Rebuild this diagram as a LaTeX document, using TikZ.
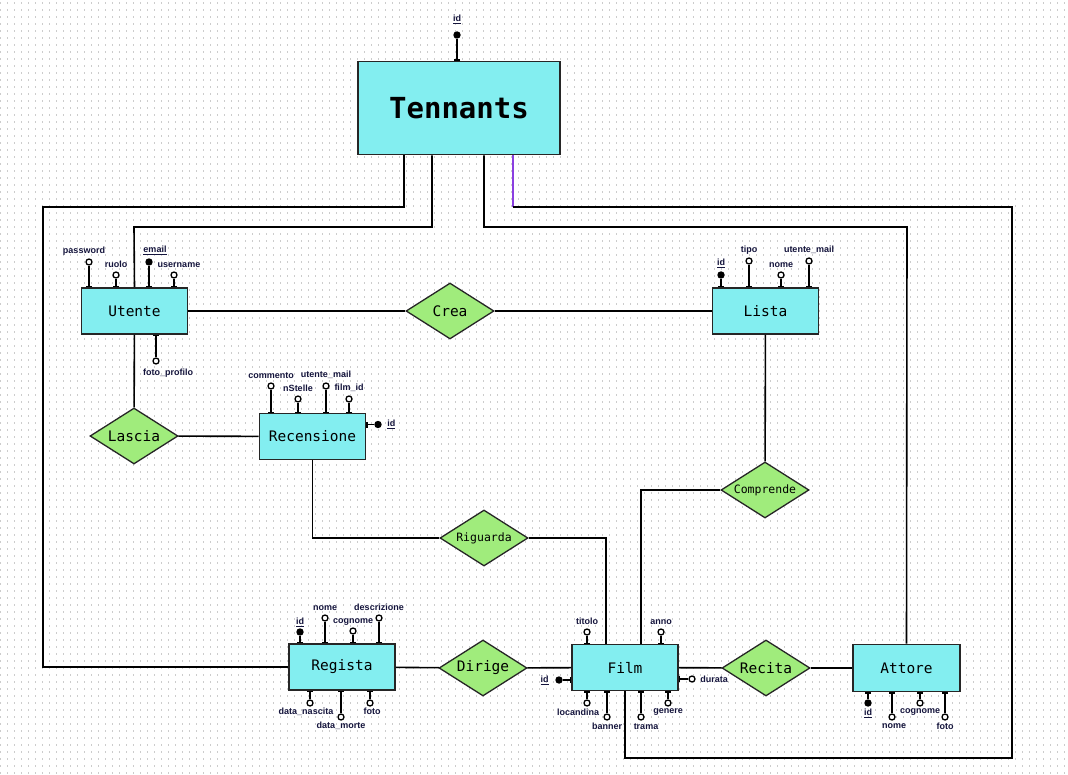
\documentclass[tikz,border=0pt]{standalone}
\usepackage{fontspec}
\setmainfont{Liberation Sans}
\setmonofont{DejaVu Sans Mono}
\usetikzlibrary{shapes.geometric, arrows.meta}

\definecolor{entcyan}{HTML}{83EEF0}
\definecolor{relgreen}{HTML}{A0EC7C}
\definecolor{linkpurple}{HTML}{8A3FE0}
\definecolor{keynavy}{HTML}{14143C}

\begin{document}
\begin{tikzpicture}[x = 1pt, y = -1pt, % one unit per pixel, y going down
                line width = 1.6pt, % line style
                label distance = 2.5pt
            ]

            \tikzstyle{entity}=[draw = black!85, fill = entcyan, line width = 1.6pt,
            minimum width = 106pt, minimum height = 46pt, inner sep = 0pt,
            font = \ttfamily\fontsize{14.5}{16}\selectfont]
            \tikzstyle{relation}=[draw = black!85, fill = relgreen, diamond, aspect = 1.57,
            line width = 1.3pt, inner sep = 0pt, minimum width = 88pt, minimum height = 56pt,
            font = \ttfamily\fontsize{14.5}{16}\selectfont]
            \tikzstyle{smallrel}=[relation, font = \ttfamily\fontsize{11.5}{13}\selectfont]
            \tikzstyle{attr}=[draw = black, fill = white, circle, inner sep = 0pt,
            minimum size = 6pt, line width = 1.3pt]
            \tikzstyle{key}=[attr, fill = black]
            \tikzstyle{every label}=[font = \bfseries\fontsize{9}{10}\selectfont,
            text = keynavy, inner sep = 0pt]
            \tikzstyle{stub}=[{Bar[width = 6pt, line width = 1.2pt]}-, line width = 1.6pt]

            % page and dotted grid
            \useasboundingbox (0,0) rectangle (1068,775);
            \fill[white] (0,0) rectangle (1068,775);
            \foreach \gy in {3,10,...,773}
            \draw[gray!40, line width = 1.2pt, dash pattern = on 1.2pt off 5.8pt] (0,\gy) -- (1068,\gy);

            % entities
            \node[entity, minimum width = 202pt, minimum height = 93pt,
            font = \ttfamily\bfseries\fontsize{29}{32}\selectfont] (tennants) at (459,108) {Tennants};
            \node[entity] (utente) at (134.5,311) {Utente};
            \node[entity] (lista) at (765.5,311) {Lista};
            \node[entity] (recensione) at (312.5,436.5) {Recensione};
            \node[entity] (regista) at (342,667) {Regista};
            \node[entity] (film) at (625,667.5) {Film};
            \node[entity, minimum width = 107pt, minimum height = 47pt] (attore) at (906.5,668) {Attore};

            % relations
            \node[relation] (crea) at (450,311) {Crea};
            \node[relation] (lascia) at (134,436) {Lascia};
            \node[smallrel] (comprende) at (765,490) {Comprende};
            \node[smallrel] (riguarda) at (484,538) {Riguarda};
            \node[relation] (dirige) at (483,668) {Dirige};
            \node[relation] (recita) at (766,668) {Recita};

            % links
            \path (utente) edge (crea) (crea) edge (lista);
            \path (utente) edge (lascia) (lascia) edge (recensione);
            \path (lista) edge (comprende);
            \draw (comprende.west) -| ([xshift = 16pt]film.north);
            \draw (recensione.south) |- (riguarda.west);
            \draw (riguarda.east) -| ([xshift = -19pt]film.north);
            \path (regista) edge (dirige) (dirige) edge (film);
            \path (film) edge (recita) (recita) edge (attore);

            % tenant links
            \draw ([xshift = -55pt]tennants.south) |- (43,207) |- (regista.west);
            \draw ([xshift = -27pt]tennants.south) |- (134,227) -- (utente.north);
            \draw ([xshift = 25pt]tennants.south) |- (907,227) -- (attore.north);
            \draw[linkpurple] ([xshift = 54pt]tennants.south) -- (513,207);
            \draw (513,207) -| (1012,758) -| (film.south);

            % attributes: Tennants
            \node[key, label = {[label distance = 7pt]above:\underline{id}}] (tid) at (457,35) {};
            \draw[stub] (tennants.north -| tid) -- (tid);

            % attributes: Utente
            \node[attr, label = {[xshift = -5pt]above:password}] (upw) at (89,262) {};
            \node[attr, label = above:ruolo] (uruolo) at (116,275) {};
            \node[key, label = {[xshift = 6pt]above:\underline{email}}] (uemail) at (149,262) {};
            \node[attr, label = {[xshift = 5pt]above:username}] (uuser) at (174,275) {};
            \node[attr, label = {[xshift = 12pt, label distance = 4pt]below:foto\_profilo}] (ufoto) at (156,361) {};
            \foreach \a in {upw, uruolo, uemail, uuser} \draw[stub] (utente.north -| \a) -- (\a);
            \draw[stub] (utente.south -| ufoto) -- (ufoto);

            % attributes: Lista
            \node[key, label = above:\underline{id}] (lid) at (721,275) {};
            \node[attr, label = above:tipo] (ltipo) at (749,261) {};
            \node[attr, label = above:nome] (lnome) at (781,275) {};
            \node[attr, label = above:utente\_mail] (lmail) at (809,261) {};
            \foreach \a in {lid, ltipo, lnome, lmail} \draw[stub] (lista.north -| \a) -- (\a);

            % attributes: Recensione
            \node[attr, label = above:commento] (rcomm) at (271,386) {};
            \node[attr, label = above:nStelle] (rstelle) at (298,399) {};
            \node[attr, label = above:utente\_mail] (rmail) at (326,386) {};
            \node[attr, label = above:film\_id] (rfilm) at (349,399) {};
            \node[key, label = {[label distance = 5pt]right:\underline{id}}] (rid) at (378,424.5) {};
            \foreach \a in {rcomm, rstelle, rmail, rfilm} \draw[stub] (recensione.north -| \a) -- (\a);
            \draw[stub] (recensione.east |- rid) -- (rid);

            % attributes: Regista
            \node[key, label = {[label distance = 1pt]above:\underline{id}}] (gid) at (300,632) {};
            \node[attr, label = above:nome] (gnome) at (325,618) {};
            \node[attr, label = {[label distance = 1pt]above:cognome}] (gcogn) at (353,631) {};
            \node[attr, label = above:descrizione] (gdesc) at (379,618) {};
            \node[attr, label = {[xshift = -4pt, label distance = 1pt]below:data\_nascita}] (gnasc) at (310,703) {};
            \node[attr, label = {[label distance = 1pt]below:data\_morte}] (gmorte) at (341,717) {};
            \node[attr, label = {[xshift = 2pt, label distance = 1pt]below:foto}] (gfoto) at (370,703) {};
            \foreach \a in {gid, gnome, gcogn, gdesc} \draw[stub] (regista.north -| \a) -- (\a);
            \foreach \a in {gnasc, gmorte, gfoto} \draw[stub] (regista.south -| \a) -- (\a);

            % attributes: Film
            \node[attr, label = above:titolo] (ftitolo) at (587,632) {};
            \node[attr, label = above:anno] (fanno) at (661,632) {};
            \node[key, label = {[label distance = 6pt]left:\underline{id}}] (fid) at (559,680) {};
            \node[attr, label = {[label distance = 4pt]right:durata}] (fdurata) at (692,679) {};
            \node[attr, label = {[xshift = -9pt, label distance = 2pt]below:locandina}] (floc) at (587,703) {};
            \node[attr, label = {[label distance = 2pt]below:banner}] (fbanner) at (607,717) {};
            \node[attr, label = {[xshift = 5pt, label distance = 2pt]below:trama}] (ftrama) at (641,717) {};
            \node[attr, label = {[label distance = 1pt]below:genere}] (fgenere) at (668,703) {};
            \foreach \a in {ftitolo, fanno} \draw[stub] (film.north -| \a) -- (\a);
            \foreach \a in {floc, fbanner, ftrama, fgenere} \draw[stub] (film.south -| \a) -- (\a);
            \draw[stub] (film.west |- fid) -- (fid);
            \draw[stub] (film.east |- fdurata) -- (fdurata);

            % attributes: Attore
            \node[key, label = {[label distance = 2pt]below:\underline{id}}] (aid) at (868,703) {};
            \node[attr, label = {[xshift = 2pt, label distance = 2pt]below:nome}] (anome) at (892,717) {};
            \node[attr, label = {[label distance = 1pt]below:cognome}] (acogn) at (920,703) {};
            \node[attr, label = {[label distance = 2pt]below:foto}] (afoto) at (945,717) {};
            \foreach \a in {aid, anome, acogn, afoto} \draw[stub] (attore.south -| \a) -- (\a);
        \end{tikzpicture}
\end{document}
